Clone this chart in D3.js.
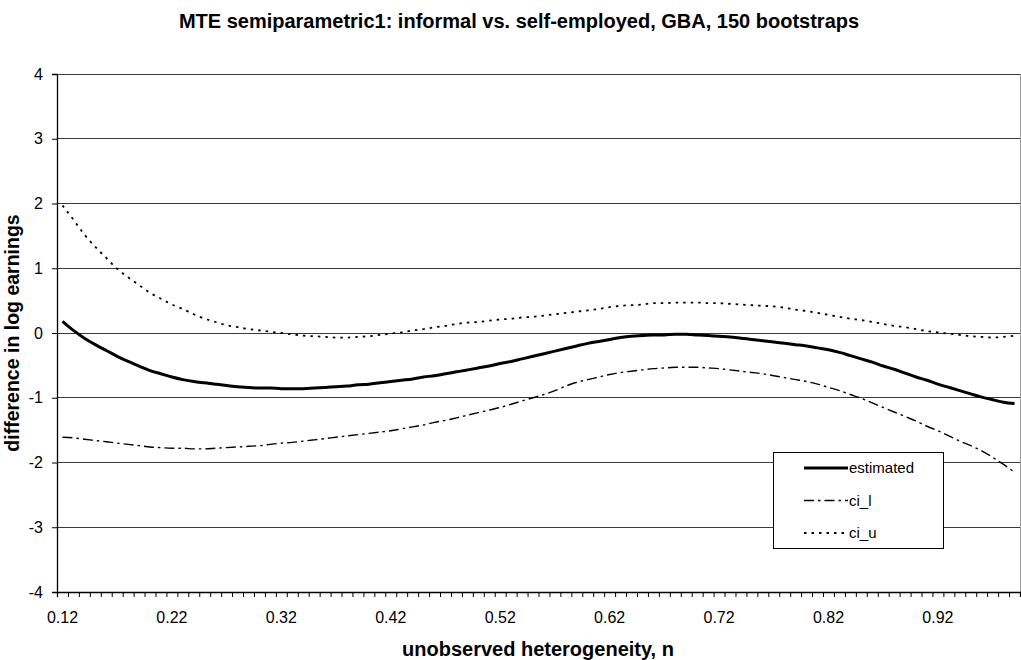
<!DOCTYPE html>
<html>
<head>
<meta charset="utf-8">
<script src="https://cdn.jsdelivr.net/npm/d3@7"></script>
<style>
  html, body { margin: 0; padding: 0; background: #fff; }
  svg { display: block; font-family: "Liberation Sans", Arial, sans-serif; }
</style>
</head>
<body>
<svg id="chart" width="1021" height="660"></svg>
<script>
// Grid of n values: 0.12 .. 0.99 in steps of 0.01
const categories = d3.range(88).map(i => ((12 + i) / 100).toFixed(2));

const tickLabels = ["0.12", "0.22", "0.32", "0.42", "0.52", "0.62", "0.72", "0.82", "0.92"];
const yTicks = [-4, -3, -2, -1, 0, 1, 2, 3, 4];

// MTE point estimate
const estimated = [
   0.18,  0.04, -0.08, -0.18, -0.27, -0.36, -0.44, -0.51, -0.58, -0.63,
  -0.68, -0.72, -0.75, -0.77, -0.79, -0.81, -0.83, -0.84, -0.85, -0.85,
  -0.86, -0.86, -0.86, -0.85, -0.84, -0.83, -0.82, -0.80, -0.79, -0.77,
  -0.75, -0.73, -0.71, -0.68, -0.66, -0.63, -0.60, -0.57, -0.54, -0.51,
  -0.47, -0.44, -0.40, -0.36, -0.32, -0.28, -0.24, -0.20, -0.16, -0.13,
  -0.10, -0.07, -0.05, -0.04, -0.03, -0.03, -0.02, -0.02, -0.03, -0.04,
  -0.05, -0.06, -0.08, -0.10, -0.12, -0.14, -0.16, -0.18, -0.20, -0.23,
  -0.26, -0.30, -0.35, -0.40, -0.45, -0.51, -0.56, -0.62, -0.68, -0.73,
  -0.79, -0.84, -0.89, -0.94, -0.99, -1.03, -1.07, -1.09
];

// Lower bootstrap band
const ciL = [
  -1.61, -1.62, -1.64, -1.66, -1.68, -1.70, -1.72, -1.74, -1.76, -1.77,
  -1.78, -1.78, -1.79, -1.79, -1.78, -1.77, -1.76, -1.75, -1.74, -1.72,
  -1.70, -1.69, -1.67, -1.65, -1.63, -1.61, -1.59, -1.57, -1.55, -1.53,
  -1.51, -1.48, -1.45, -1.42, -1.38, -1.35, -1.31, -1.27, -1.23, -1.19,
  -1.15, -1.10, -1.05, -1.00, -0.95, -0.89, -0.82, -0.76, -0.72, -0.68,
  -0.64, -0.61, -0.59, -0.57, -0.55, -0.54, -0.53, -0.53, -0.53, -0.54,
  -0.55, -0.57, -0.59, -0.61, -0.63, -0.66, -0.69, -0.72, -0.75, -0.79,
  -0.84, -0.89, -0.95, -1.01, -1.08, -1.15, -1.22, -1.29, -1.36, -1.44,
  -1.51, -1.59, -1.67, -1.74, -1.82, -1.92, -2.03, -2.15
];

// Upper bootstrap band
const ciU = [
   1.97,  1.75,  1.52,  1.33,  1.16,  0.99,  0.86,  0.74,  0.62,  0.53,
   0.44,  0.37,  0.29,  0.22,  0.17,  0.12,  0.09,  0.06,  0.04,  0.02,
   0.00, -0.02, -0.04, -0.05, -0.06, -0.07, -0.07, -0.06, -0.05, -0.03,
  -0.01,  0.01,  0.04,  0.06,  0.09,  0.11,  0.14,  0.16,  0.17,  0.19,
   0.21,  0.22,  0.24,  0.25,  0.27,  0.29,  0.31,  0.33,  0.35,  0.37,
   0.40,  0.42,  0.43,  0.44,  0.46,  0.46,  0.47,  0.47,  0.47,  0.46,
   0.46,  0.45,  0.44,  0.43,  0.42,  0.41,  0.39,  0.36,  0.34,  0.31,
   0.28,  0.25,  0.22,  0.20,  0.17,  0.14,  0.11,  0.09,  0.06,  0.03,
   0.01, -0.01, -0.03, -0.05, -0.06, -0.07, -0.06, -0.04
];

const seriesNames = ["estimated", "ci_l", "ci_u"];
const seriesData = [estimated, ciL, ciU];
const seriesStyle = {
  estimated: { width: 3,   dash: null },
  ci_l:      { width: 1.4, dash: "10,4,2.5,4" },
  ci_u:      { width: 1.8, dash: "2.5,5" }
};

const svg = d3.select("#chart");
const plot = { left: 57, right: 1020, top: 74, bottom: 592 };

const x = d3.scaleBand().domain(categories).range([plot.left, plot.right]).padding(0);
const xEdge = d3.scaleLinear().domain([0, categories.length]).range([plot.left, plot.right]);
const y = d3.scaleLinear().domain([-4, 4]).range([plot.bottom, plot.top]);

// horizontal gridlines
svg.append("g")
  .selectAll("line")
  .data(yTicks.filter(v => v > -4))
  .join("line")
  .attr("x1", plot.left).attr("x2", plot.right)
  .attr("y1", d => y(d)).attr("y2", d => y(d))
  .attr("stroke", "#3a3a3a").attr("stroke-width", 1)
  .attr("shape-rendering", "crispEdges");

// right plot border
svg.append("line")
  .attr("x1", plot.right).attr("x2", plot.right)
  .attr("y1", plot.top).attr("y2", plot.bottom)
  .attr("stroke", "#9a9a9a").attr("stroke-width", 1)
  .attr("shape-rendering", "crispEdges");

// y axis
const yAxis = svg.append("g")
  .attr("transform", `translate(${plot.left},0)`)
  .call(d3.axisLeft(y).tickValues(yTicks).tickSize(5).tickPadding(9).tickFormat(d => String(d)));
yAxis.select(".domain").attr("stroke", "#000").attr("stroke-width", 1.3);
yAxis.selectAll(".tick line").attr("stroke", "#000");
yAxis.selectAll("text").attr("font-size", 16).attr("fill", "#000")
  .attr("font-family", "'Liberation Sans', Arial, sans-serif");

// x axis: tick marks at category boundaries
const xTicks = svg.append("g")
  .attr("transform", `translate(0,${plot.bottom})`)
  .call(d3.axisBottom(xEdge).tickValues(d3.range(categories.length + 1)).tickSize(5).tickFormat(""));
xTicks.select(".domain").attr("stroke", "#000").attr("stroke-width", 1.3);
xTicks.selectAll(".tick line").attr("stroke", "#000");

// x axis labels every tenth category
const xLabels = svg.append("g")
  .attr("transform", `translate(0,${plot.bottom})`)
  .call(d3.axisBottom(x).tickValues(tickLabels).tickSize(0).tickPadding(20));
xLabels.select(".domain").remove();
xLabels.selectAll("text").attr("font-size", 16).attr("fill", "#000")
  .attr("font-family", "'Liberation Sans', Arial, sans-serif");

// series lines
const line = d3.line()
  .x((d, i) => x(categories[i]) + x.bandwidth() / 2)
  .y(d => y(d))
  .curve(d3.curveMonotoneX);

seriesNames.forEach((name, k) => {
  const st = seriesStyle[name];
  svg.append("path")
    .datum(seriesData[k])
    .attr("fill", "none")
    .attr("stroke", "#000")
    .attr("stroke-width", st.width)
    .attr("stroke-dasharray", st.dash)
    .attr("stroke-linejoin", "round")
    .attr("d", line);
});

// legend
const legend = svg.append("g").attr("transform", "translate(773,452)");
legend.append("rect")
  .attr("x", 0.5).attr("y", 0.5).attr("width", 170).attr("height", 96)
  .attr("fill", "#fff").attr("stroke", "#000").attr("stroke-width", 1);
seriesNames.forEach((name, k) => {
  const st = seriesStyle[name];
  const cy = 16 + k * 32.5;
  legend.append("line")
    .attr("x1", 31).attr("x2", 75).attr("y1", cy).attr("y2", cy)
    .attr("stroke", "#000").attr("stroke-width", st.width)
    .attr("stroke-dasharray", st.dash);
  legend.append("text")
    .attr("x", 76).attr("y", cy).attr("dy", "0.35em")
    .attr("font-size", 15).text(name);
});

// title and axis titles
svg.append("text")
  .attr("x", 519).attr("y", 28).attr("text-anchor", "middle")
  .attr("font-size", 20).attr("font-weight", "bold")
  .text("MTE semiparametric1: informal vs. self-employed, GBA, 150 bootstraps");

svg.append("text")
  .attr("x", 538).attr("y", 656).attr("text-anchor", "middle")
  .attr("font-size", 20).attr("font-weight", "bold")
  .text("unobserved heterogeneity, n");

svg.append("text")
  .attr("transform", "translate(19,333) rotate(-90)")
  .attr("text-anchor", "middle")
  .attr("font-size", 19.5).attr("font-weight", "bold")
  .text("difference in log earnings");
</script>
</body>
</html>
